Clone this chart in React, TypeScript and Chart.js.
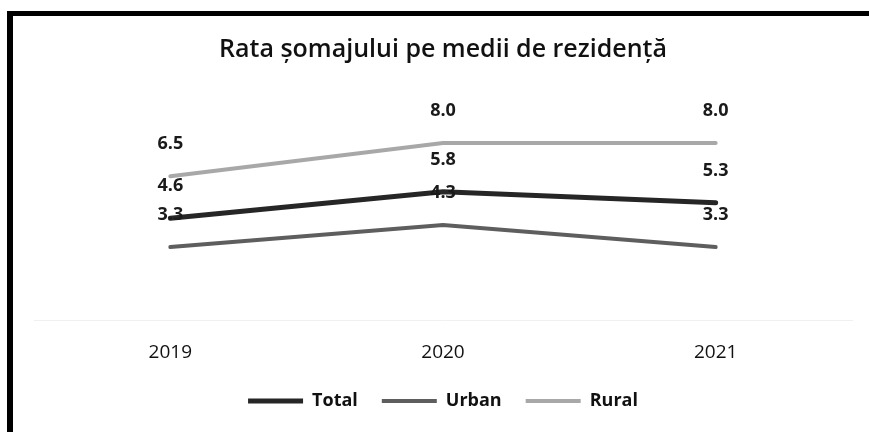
import React, { useEffect, useRef } from "react";
import { Chart, registerables } from "chart.js";

Chart.register(...registerables);

const categories = ["2019", "2020", "2021"];
const totalValues = [4.6, 5.8, 5.3];
const urbanValues = [3.3, 4.3, 3.3];
const ruralValues = [6.5, 8.0, 8.0];
const seriesNames = ["Total", "Urban", "Rural"];
const titleText = "Rata șomajului pe medii de rezidență";

const FONT = "'Open Sans', 'Noto Sans', sans-serif";

const dataLabelPlugin = {
  id: "dataLabels",
  afterDatasetsDraw(chart: any) {
    const ctx = chart.ctx;
    ctx.save();
    ctx.font = `bold 18px ${FONT}`;
    ctx.fillStyle = "#1a1a1a";
    ctx.textAlign = "center";
    ctx.textBaseline = "middle";
    chart.data.datasets.forEach((ds: any, i: number) => {
      const meta = chart.getDatasetMeta(i);
      meta.data.forEach((pt: any, j: number) => {
        ctx.fillText(Number(ds.data[j]).toFixed(1), pt.x, pt.y - 32);
      });
    });
    ctx.restore();
  },
};

export default function App() {
  const ref = useRef<HTMLCanvasElement | null>(null);
  useEffect(() => {
    if (!ref.current) return;
    const chart = new Chart(ref.current, {
      type: "line",
      data: {
        labels: categories,
        datasets: [
          { label: seriesNames[0], data: totalValues, borderColor: "#262626", backgroundColor: "#262626", borderWidth: 5 },
          { label: seriesNames[1], data: urbanValues, borderColor: "#5e5e5e", backgroundColor: "#5e5e5e", borderWidth: 4 },
          { label: seriesNames[2], data: ruralValues, borderColor: "#a8a8a8", backgroundColor: "#a8a8a8", borderWidth: 4 },
        ],
      },
      options: {
        animation: false,
        responsive: false,
        maintainAspectRatio: false,
        elements: { point: { radius: 0 }, line: { tension: 0, borderCapStyle: "round" } },
        layout: { padding: { left: 34, right: 17, top: 0, bottom: 12 } },
        plugins: {
          title: {
            display: true,
            text: titleText,
            color: "#111",
            font: { family: FONT, size: 25, weight: "600" },
            padding: { top: 35, bottom: 56 },
          },
          legend: {
            display: true,
            position: "bottom",
            labels: {
              usePointStyle: true,
              pointStyle: "line",
              pointStyleWidth: 55,
              padding: 24,
              color: "#111",
              font: { family: FONT, size: 18, weight: "bold" },
            },
          },
          tooltip: { enabled: false },
        },
        scales: {
          x: {
            offset: true,
            grid: { display: false },
            border: { display: true, color: "#f0f0f0", width: 1 },
            ticks: { color: "#111", padding: 13.5, font: { family: FONT, size: 19 } },
            afterFit: (scale: any) => {
              scale.height = 48;
            },
          },
          y: { display: false, min: 0, max: 9 },
        },
      },
      plugins: [dataLabelPlugin],
    });
    return () => chart.destroy();
  }, []);
  return (
    <div>
      <canvas
        ref={ref}
        width={869}
        height={432}
        style={{ position: "fixed", left: 0, top: 0, width: 869, height: 432, background: "#fff" }}
      />
      <div
        style={{
          position: "fixed",
          left: 7,
          top: 11,
          width: 862,
          height: 421,
          boxSizing: "border-box",
          borderLeft: "6px solid #000",
          borderTop: "5px solid #000",
          pointerEvents: "none",
        }}
      />
    </div>
  );
}
